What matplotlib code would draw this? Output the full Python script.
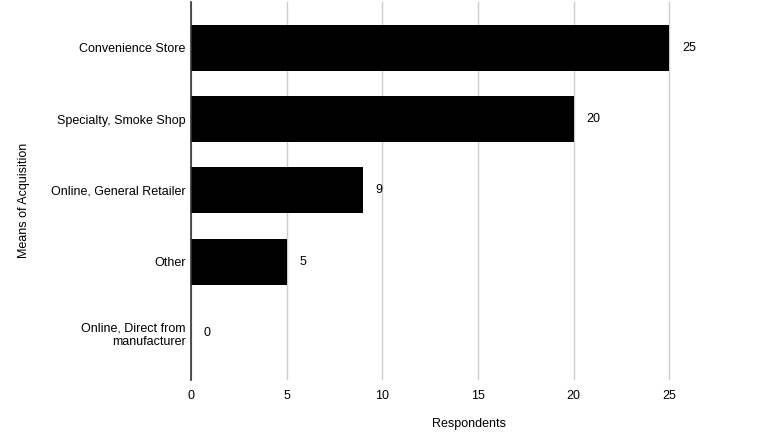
import matplotlib
matplotlib.use("Agg")
import matplotlib.pyplot as plt

categories = ["Convenience Store", "Specialty, Smoke Shop", "Online, General Retailer",
              "Other", "Online, Direct from\nmanufacturer"]
values = [25, 20, 9, 5, 0]
xticks = [0, 5, 10, 15, 20, 25]

plt.rcParams['font.family'] = ['Liberation Sans', 'DejaVu Sans']

fig = plt.figure(figsize=(7.62, 4.34), dpi=100)
ax = fig.add_axes([191/762, 1 - 380/434, (746-191)/762, 378/434])

pos = list(range(len(categories)))
ax.barh(pos, values, height=0.645, color="black", zorder=3)
for p, v in zip(pos, values):
    ax.text(v + 0.65, p, str(v), va="center", ha="left", fontsize=9, color="black")

ax.set_ylim(4.66, -0.645)
ax.set_xlim(0, 29)
ax.set_yticks(pos)
ax.set_yticklabels(categories, fontsize=9, ha="right", multialignment="right")
ax.set_xticks(xticks)
ax.set_xticklabels([str(t) for t in xticks], fontsize=9)
ax.tick_params(axis="y", length=0, pad=4)
ax.tick_params(axis="x", length=0, pad=7)
ax.grid(axis="x", color="#cccccc", linewidth=1, zorder=0)
for s in ["top", "right", "bottom"]:
    ax.spines[s].set_visible(False)
ax.spines["left"].set_color("#333333")
ax.spines["left"].set_linewidth(1.2)
ax.spines["left"].set_zorder(4)
ax.set_xlabel("Respondents", fontsize=9, labelpad=12)
ax.set_ylabel("Means of Acquisition", fontsize=9)
ax.yaxis.set_label_coords(-(191 - 30) / 555, 0.476)

fig.savefig("out.png", dpi=100, facecolor="white")
